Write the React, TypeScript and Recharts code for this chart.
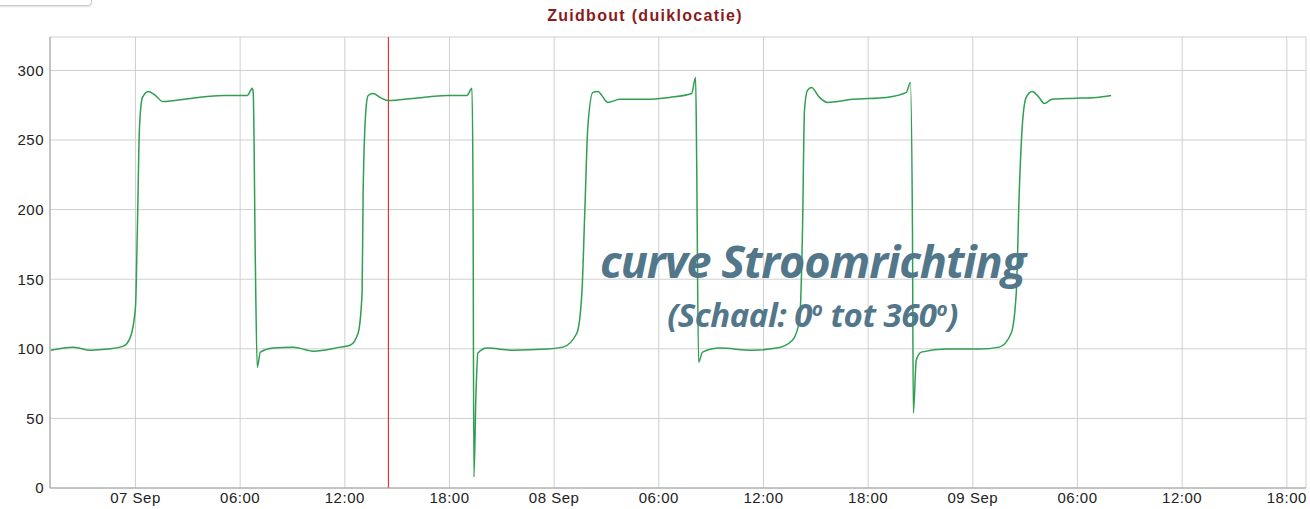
import { LineChart, Line, XAxis, YAxis, CartesianGrid, ReferenceLine } from "recharts";

// hours relative to 07 Sep 00:00
const HOURS = [
  -4.87, -3.55, -2.58, -1.6, -0.69, -0.29, 0, 0.11, 0.23, 0.4, 0.74, 1.14, 1.55, 3.15, 5.04, 6.41, 6.7, 6.75, 6.87,
  6.98, 7.16, 7.9, 9.05, 10.19, 11.73, 12.31, 12.76, 12.99, 13.05, 13.22, 13.34, 13.62, 14.02, 14.48, 15.91, 17.86,
  19.0, 19.29, 19.35, 19.4, 19.52, 19.63, 20.15, 21.64, 23.58, 24.5, 25.3, 25.59, 25.76, 25.93, 26.22, 26.5, 27.08,
  27.76, 29.08, 30.62, 31.88, 32.11, 32.17, 32.28, 32.51, 33.49, 35.38, 36.75, 37.66, 38.07, 38.24, 38.35, 38.52,
  38.75, 39.21, 39.67, 41.1, 43.05, 44.19, 44.42, 44.54, 44.59, 44.76, 45.05, 46.48, 48.37, 49.51, 50.2, 50.49, 50.66,
  50.83, 51.06, 51.4, 51.8, 52.09, 52.55, 53.69, 55.07, 55.93,
];

// stroomrichting (graden)
const DIRECTION = [
  99, 101.2, 99, 99.8, 101.9, 108.4, 129.9, 187.3, 259.1, 280.6, 284.9, 282, 277.7, 279.9, 282, 282, 287.1, 284.2, 163.6,
  86.8, 97.6, 100.5, 101.2, 98.3, 101.2, 102.6, 111.2, 140, 211.7, 273.4, 282, 283.4, 280.6, 278.4, 279.9, 282,
  282, 287.1, 211.7, 7.9, 68.2, 96.9, 100.5, 99, 99.8, 101.2, 111.2, 140, 199.5, 259.1, 284.2, 284.9, 277,
  279.2, 279.2, 280.6, 283.4, 294.9, 235.4, 90.4, 97.6, 100.5, 99, 100.5, 106.2, 120.6, 187.3, 271.3, 285.6,
  287.8, 280.6, 277, 279.2, 280.6, 284.2, 291.4, 187.3, 53.8, 91.9, 97.6, 99.8, 99.8, 101.2, 111.2, 140, 211.7,
  259.1, 280.6, 284.9, 280.6, 276.3, 279.2, 279.9, 280.6, 282,
];

const X_TICKS = [0, 6, 12, 18, 24, 30, 36, 42, 48, 54, 60, 66];
const X_LABELS = ["07 Sep", "06:00", "12:00", "18:00", "08 Sep", "06:00", "12:00", "18:00", "09 Sep", "06:00", "12:00", "18:00"];
const Y_TICKS = [0, 50, 100, 150, 200, 250, 300];
const MARKER_HOUR = 14.5;

const data = HOURS.map((h, i) => ({ h, v: DIRECTION[i] }));

const tickStyle = { fontSize: 15, fill: "#222", letterSpacing: 0.5 };
const deg = <span style={{ fontSize: 19, verticalAlign: 11, lineHeight: 0 }}>o</span>;

export default function App() {
  return (
    <div
      style={{
        position: "absolute",
        left: 0,
        top: 0,
        width: 1310,
        height: 509,
        background: "#fff",
        overflow: "hidden",
        fontFamily: "'Liberation Sans', Arial, sans-serif",
      }}
    >
      <div
        style={{
          position: "absolute",
          left: -6,
          top: -20,
          width: 96,
          height: 24,
          border: "1px solid #c8c8c8",
          borderRadius: 4,
          boxShadow: "0 1px 2px #ddd",
        }}
      />
      <div
        style={{
          position: "absolute",
          top: 7,
          left: 0,
          width: 1290,
          textAlign: "center",
          fontSize: 16,
          fontWeight: 700,
          letterSpacing: 1.3,
          color: "#8b1a1a",
        }}
      >
        Zuidbout (duiklocatie)
      </div>
      <LineChart width={1310} height={509} data={data} margin={{ top: 37, right: 4, bottom: 0, left: 0 }}>
        <CartesianGrid stroke="#cfcfcf" strokeWidth={1} />
        <XAxis
          dataKey="h"
          type="number"
          domain={[-4.9, 67.1]}
          ticks={X_TICKS}
          tickFormatter={(v) => X_LABELS[X_TICKS.indexOf(v)] ?? ""}
          tickLine={false}
          tickSize={0}
          tickMargin={4}
          height={21}
          axisLine={{ stroke: "#a0a0a0" }}
          tick={tickStyle}
          allowDataOverflow
        />
        <YAxis
          domain={[0, 324]}
          ticks={Y_TICKS}
          tickLine={false}
          tickSize={0}
          tickMargin={6}
          width={50}
          axisLine={{ stroke: "#a0a0a0" }}
          tick={tickStyle}
          allowDataOverflow
        />
        <ReferenceLine x={MARKER_HOUR} stroke="#e8332e" strokeWidth={1.2} />
        <Line
          type="monotone"
          dataKey="v"
          stroke="#2f9f52"
          strokeWidth={1.5}
          dot={false}
          isAnimationActive={false}
        />
      </LineChart>
      <div
        style={{
          position: "absolute",
          left: 560,
          top: 238,
          width: 505,
          textAlign: "center",
          fontFamily: "'Open Sans', sans-serif",
          fontStyle: "italic",
          fontWeight: 700,
          color: "#52768a",
          lineHeight: 1,
        }}
      >
        <div style={{ fontSize: 45, letterSpacing: -1.1, lineHeight: "45px" }}>curve Stroomrichting</div>
        <div style={{ fontSize: 33, letterSpacing: -0.5, marginTop: 15, lineHeight: "33px" }}>
          (Schaal: 0{deg} tot 360{deg})
        </div>
      </div>
    </div>
  );
}
